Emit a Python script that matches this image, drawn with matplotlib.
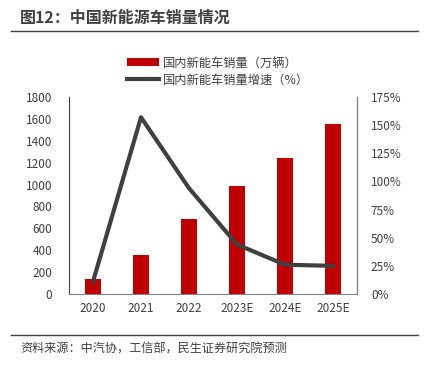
import numpy as np
import matplotlib.pyplot as plt
from matplotlib.ticker import FuncFormatter

plt.rcParams['font.family'] = ['Noto Sans CJK SC', 'DejaVu Sans']

years = ['2020', '2021', '2022', '2023E', '2024E', '2025E']
sales = [137, 352, 689, 985, 1240, 1550]
growth = [11, 157, 94, 44, 26, 25]

fig = plt.figure(figsize=(4.24, 3.70), dpi=100)
ax = fig.add_axes([69 / 424, 1 - 294 / 370, (357 - 69) / 424, (294 - 97) / 370])
ax2 = ax.twinx()

x = np.arange(len(years))
ax.bar(x, sales, width=0.33, color='#C00000', label='国内新能车销量（万辆）', zorder=1)
ax2.plot(x, growth, color='#404040', lw=3, label='国内新能车销量增速（%）', zorder=3)

ax.set_xlim(-0.5, len(years) - 0.5)
ax.set_ylim(0, 1800)
ax.set_yticks(range(0, 1801, 200))
ax2.set_ylim(0, 175)
ax2.set_yticks(range(0, 176, 25))
ax2.yaxis.set_major_formatter(FuncFormatter(lambda v, p: f'{int(v)}%'))
ax.set_xticks(x)
ax.set_xticklabels(years)

for a in (ax, ax2):
    a.tick_params(length=0, labelsize=8.5, colors='#404040', pad=6)
    a.spines['top'].set_visible(False)
ax.spines['left'].set_color('#404040')
ax.spines['bottom'].set_color('#808080')
ax2.spines['right'].set_color('#808080')
ax2.spines['left'].set_visible(False)
ax2.spines['bottom'].set_visible(False)
ax.tick_params(axis='y', pad=12)
ax2.tick_params(axis='y', pad=10)

h1, l1 = ax.get_legend_handles_labels()
h2, l2 = ax2.get_legend_handles_labels()
fig.legend(h1 + h2, l1 + l2, loc='center', bbox_to_anchor=(218 / 424, 1 - 71.5 / 370),
           frameon=False, fontsize=8.8, handlelength=2.6, handletextpad=0.3,
           labelspacing=0.35, labelcolor='#404040')

fig.text(20 / 424, 1 - 18 / 370, '图12：中国新能源车销量情况', fontsize=11.5, fontweight='bold',
         color='#404040', va='center')
fig.add_artist(plt.Line2D([11 / 424, 418 / 424], [1 - 31 / 370] * 2, color='#404040', lw=1))
fig.add_artist(plt.Line2D([11 / 424, 418 / 424], [1 - 335 / 370] * 2, color='#404040', lw=1))
fig.text(20 / 424, 1 - 349 / 370, '资料来源：中汽协，工信部，民生证券研究院预测', fontsize=8.7,
         color='#404040', va='center')

fig.savefig('out.png', dpi=100)
